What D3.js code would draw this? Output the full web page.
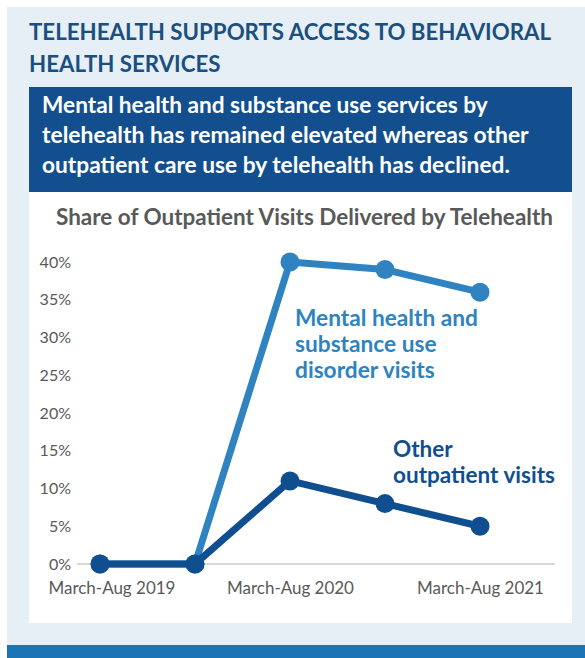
<!DOCTYPE html>
<html><head><meta charset="utf-8">
<script src="https://cdn.jsdelivr.net/npm/d3@7"></script>
<style>html,body{margin:0;padding:0;background:#fff;}svg{display:block;font-family:Lato,"Open Sans",sans-serif;}</style>
</head><body>
<script>
// ---- data ----
const periods = ["March-Aug 2019","Sept 2019-Feb 2020","March-Aug 2020","Sept 2020-Feb 2021","March-Aug 2021"];
const labelledPeriods = ["March-Aug 2019","March-Aug 2020","March-Aug 2021"];
const mentalHealth = [0, 0, 40, 39, 36];
const otherOutpatient = [0, 0, 11, 8, 5];
const yTicks = [0, 5, 10, 15, 20, 25, 30, 35, 40];
const titleLines = ["TELEHEALTH SUPPORTS ACCESS TO BEHAVIORAL", "HEALTH SERVICES"];
const subtitleLines = ["Mental health and substance use services by", "telehealth has remained elevated whereas other", "outpatient care use by telehealth has declined."];
const chartTitle = "Share of Outpatient Visits Delivered by Telehealth";
const mhLabel = ["Mental health and", "substance use", "disorder visits"];
const otherLabel = ["Other", "outpatient visits"];

const W = 585, H = 658;
const svg = d3.select("body").append("svg").attr("width", W).attr("height", H);

// fit helper: scale font size so text width matches target
function fit(t, target) {
  const w = t.node().getComputedTextLength();
  const fs = parseFloat(t.attr("font-size"));
  const nfs = (fs * target / w).toFixed(2);
  t.attr("font-size", nfs);
  return nfs;
}

// backgrounds
svg.append("rect").attr("x", 7).attr("y", 7).attr("width", W - 7).attr("height", 638).attr("fill", "#e6eef6");
svg.append("rect").attr("x", 7).attr("y", 645).attr("width", W - 7).attr("height", 13).attr("fill", "#1b75b5");
svg.append("rect").attr("x", 29).attr("y", 87).attr("width", 543).attr("height", 105).attr("fill", "#134f8e");
svg.append("rect").attr("x", 29).attr("y", 192).attr("width", 543).attr("height", 431).attr("fill", "#ffffff");

// title
const tl1 = svg.append("text").attr("x", 29).attr("y", 40).attr("font-size", 22).attr("font-weight", 700).attr("fill", "#1a4f80").text(titleLines[0]);
fit(tl1, 522);
svg.append("text").attr("x", 29).attr("y", 72).attr("font-size", tl1.attr("font-size")).attr("font-weight", 700).attr("fill", "#1a4f80").text(titleLines[1]);

// subtitle
const subTargets = [446, 487, 468];
subtitleLines.forEach((s, i) => {
  const t = svg.append("text").attr("x", 42).attr("y", 113 + i * 30).attr("font-size", 21).attr("font-weight", 700).attr("fill", "#ffffff").text(s);
  fit(t, subTargets[i]);
});

// chart title
const ct = svg.append("text").attr("x", 56).attr("y", 225).attr("font-size", 19).attr("font-weight", 700).attr("fill", "#595959").text(chartTitle);
fit(ct, 497);

// scales
const x = d3.scalePoint().domain(periods).range([100, 480]);
const y = d3.scaleLinear().domain([0, 40]).range([564, 262]);
const plotLeft = 77, plotRight = 555;

// y axis labels
const yAxis = d3.axisLeft(y).tickValues(yTicks).tickFormat(d => d + "%").tickSize(0).tickPadding(0);
const yg = svg.append("g").attr("transform", "translate(71,0)").call(yAxis);
yg.select(".domain").remove();
yg.selectAll("text").attr("font-size", 16).attr("fill", "#595959").attr("font-family", "Lato,'Open Sans',sans-serif");

// baseline
svg.append("line").attr("x1", plotLeft).attr("x2", plotRight).attr("y1", y(0)).attr("y2", y(0)).attr("stroke", "#d9d9d9").attr("stroke-width", 2);

// x axis labels
const xAxis = d3.axisBottom(x).tickValues(labelledPeriods).tickSize(0).tickPadding(0);
const xg = svg.append("g").attr("transform", "translate(0,582)").call(xAxis);
xg.select(".domain").remove();
xg.selectAll("text").attr("font-size", 16).attr("fill", "#595959").attr("font-family", "Lato,'Open Sans',sans-serif")
  .each(function () { fit(d3.select(this), 127); });
xg.selectAll(".tick").each(function (d) {
  const t = d3.select(this).select("text");
  const w = t.node().getComputedTextLength();
  const left = x(d) - w / 2;
  if (left < 48) t.attr("x", 48 - left);
});

// lines
const line = d3.line().x((d, i) => x(periods[i])).y(d => y(d));
const series = [
  { values: mentalHealth, color: "#2e83c0" },
  { values: otherOutpatient, color: "#0f4f8f" }
];
series.forEach(s => {
  svg.append("path").datum(s.values).attr("d", line).attr("fill", "none").attr("stroke", s.color).attr("stroke-width", 7).attr("stroke-linejoin", "round");
  svg.append("g").selectAll("circle").data(s.values).join("circle")
    .attr("cx", (d, i) => x(periods[i])).attr("cy", d => y(d)).attr("r", 9.5).attr("fill", s.color);
});

// series labels
let mhSize = 20;
mhLabel.forEach((s, i) => {
  const t = svg.append("text").attr("x", 295).attr("y", 326 + i * 26).attr("font-size", mhSize).attr("font-weight", 700).attr("fill", "#2e83c0").text(s);
  if (i === 0) mhSize = fit(t, 183);
});
const otherTexts = otherLabel.map((s, i) =>
  svg.append("text").attr("x", 393).attr("y", 457 + i * 26).attr("font-size", 20).attr("font-weight", 700).attr("fill", "#0f4f8f").text(s));
const oSize = fit(otherTexts[1], 162);
otherTexts[0].attr("font-size", oSize);
</script>
</body></html>
